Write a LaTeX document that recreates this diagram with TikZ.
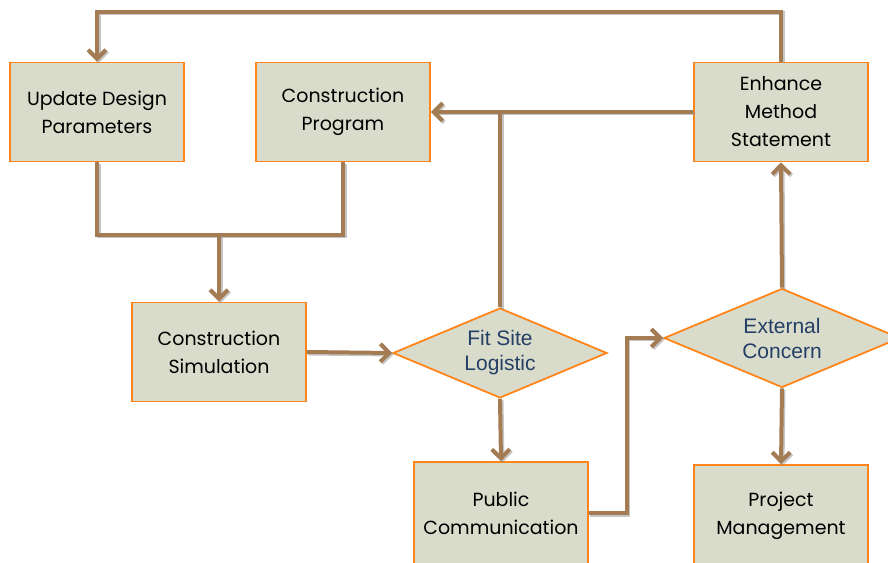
\documentclass[tikz,border=0pt]{standalone}
\usepackage{fontspec}
\setmainfont{Poppins}
\newfontfamily\decfont{Liberation Sans}
\usetikzlibrary{shapes.geometric,arrows.meta}
\definecolor{boxfill}{HTML}{DADCCB}
\definecolor{boxline}{HTML}{FF8419}
\definecolor{linkbrown}{HTML}{A47C54}
\definecolor{decblue}{HTML}{243F66}
\begin{document}
\begin{tikzpicture}[x=1pt,y=1pt,
  stepbox/.style={draw=boxline,fill=boxfill,line width=1.8pt,minimum width=174pt,minimum height=99pt,
    align=center,font=\fontsize{19}{28}\selectfont,inner sep=0pt},
  decide/.style={diamond,draw=boxline,fill=boxfill,line width=1.8pt,aspect=2.4,inner sep=0pt,
    align=center,text=decblue,font=\decfont\fontsize{21}{25}\selectfont},
  link/.style={draw=linkbrown,line width=4pt,
    preaction={draw=black!45,opacity=0.5,line width=4pt,transform canvas={shift={(1.5pt,-1.5pt)}}}},
  tip/.style={-{Straight Barb[length=9pt,width=18pt]}}]
\useasboundingbox (0,0) rectangle (888,562);
% boxes
\node[stepbox] (upd) at (97,450) {Update Design\\Parameters};
\node[stepbox] (prog) at (343,450) {Construction\\Program};
\node[stepbox] (enh) at (781,450) {Enhance\\Method\\Statement};
\node[stepbox] (sim) at (219,210) {Construction\\Simulation};
\node[stepbox,minimum height=102pt] (pub) at (501,49) {Public\\Communication};
\node[stepbox,minimum height=102pt] (pm) at (781,46) {Project\\Management};
% decisions
\node[decide,minimum width=214pt,minimum height=90pt] (fit) at (500,209) {Fit Site\\Logistic};
\node[decide,minimum width=236pt,minimum height=99pt] (ext) at (782,224) {External\\Concern};
% connectors
\coordinate (join) at (sim.north |- 0,327);
\coordinate (loop) at (0,550);
\draw[link,tip] (enh.north) |- (loop -| upd.north) -- (upd.north);
\draw[link] (upd.south) |- (join) -| (prog.south);
\draw[link,tip] (join) -- (sim.north);
\draw[link,tip] (sim.east) -- (fit.west);
\draw[link,tip] (enh.west) -- (prog.east);
\draw[link] (fit.north) -- (fit.north |- prog.east);
\draw[link,tip] (fit.south) -- (pub.north);
\draw[link,tip] (pub.east) -- ++(38,0) |- (ext.west);
\draw[link,tip] (ext.north) -- (enh.south);
\draw[link,tip] (ext.south) -- (pm.north);
\end{tikzpicture}
\end{document}
